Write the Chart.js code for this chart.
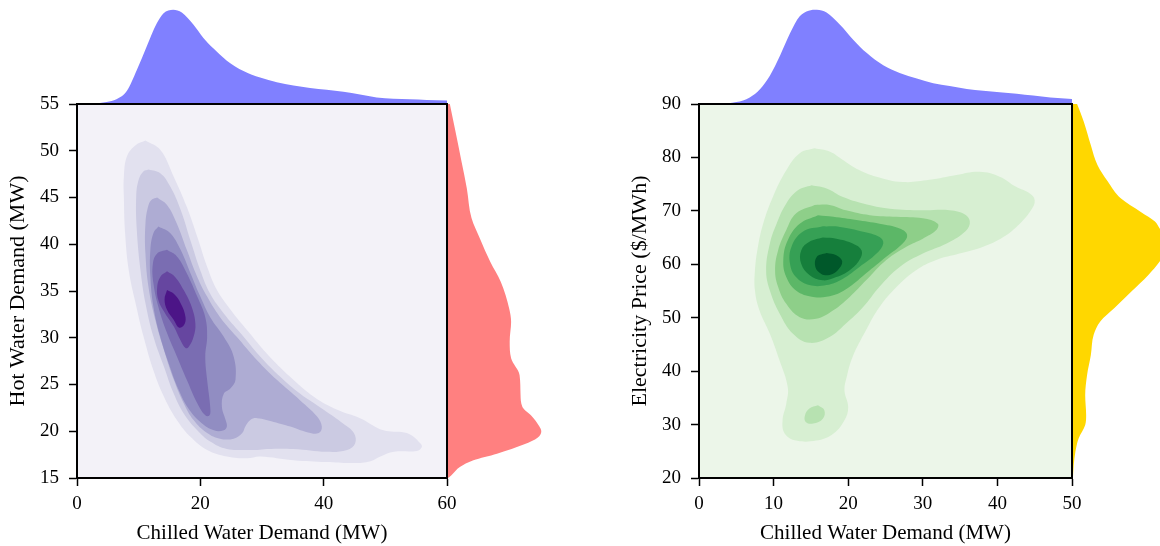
<!DOCTYPE html>
<html>
<head>
<meta charset="utf-8">
<script src="https://cdn.jsdelivr.net/npm/chart.js@4.4.1/dist/chart.umd.min.js"></script>
<style>
  html, body { margin: 0; padding: 0; background: #fff; overflow: hidden; }
  #fig { position: relative; width: 1160px; height: 546px; overflow: hidden; background: #fff; }
  #fig canvas { position: absolute; }
</style>
</head>
<body>
<div id="fig">
  <canvas id="hwTop" width="370" height="99" style="left:77px;top:5px"></canvas>
  <canvas id="hwSide" width="99" height="374" style="left:447px;top:104px"></canvas>
  <canvas id="epTop" width="373" height="99" style="left:699px;top:5px"></canvas>
  <canvas id="epSide" width="99" height="374" style="left:1072px;top:104px"></canvas>
  <canvas id="hwMain" width="580" height="546" style="left:0;top:0"></canvas>
  <canvas id="epMain" width="580" height="546" style="left:580px;top:0"></canvas>
</div>
<script>
// ---- Hot water vs chilled water: density contour levels (outermost first) ----
const hwL1 = [[11.1,51.1],[13.5,50.1],[15.7,47.2],[17.8,44.0],[19.5,40.8],[21.1,37.6],[22.7,35.1],[24.9,33.0],[27.6,30.8],[30.8,28.3],[34.6,25.8],[38.4,23.7],[42.2,22.3],[45.9,21.4],[49.7,20.1],[53.5,19.8],[55.7,18.7],[55.9,18.3],[55.1,17.9],[51.4,17.8],[49.2,17.3],[47.6,16.8],[44.9,16.6],[40.5,16.7],[35.1,16.9],[29.7,17.3],[27.6,17.1],[24.3,17.3],[21.1,18.0],[18.4,19.4],[16.2,21.2],[14.1,23.7],[12.4,26.5],[10.8,30.1],[9.5,33.7],[8.4,37.2],[7.8,41.2],[7.6,45.1],[7.6,47.2],[8.1,49.4],[9.5,50.6]];
const hwL2 = [[11.6,48.0],[13.5,47.6],[15.1,46.2],[16.8,43.7],[18.4,40.4],[20.0,37.2],[21.6,34.7],[23.8,32.6],[26.5,30.5],[29.7,28.0],[33.0,25.8],[36.2,24.0],[40.0,22.3],[43.2,20.8],[44.9,19.8],[45.1,18.7],[43.8,18.0],[40.5,17.8],[35.1,18.1],[30.8,18.1],[29.2,18.0],[27.6,18.0],[24.3,18.1],[21.6,18.9],[19.5,20.1],[17.3,21.9],[15.7,24.0],[14.1,26.9],[12.4,30.1],[11.1,33.7],[10.3,37.2],[9.7,41.5],[9.6,45.1],[10.0,46.9],[10.8,47.8]];
const hwL3 = [[13.0,45.0],[14.6,44.2],[16.2,42.2],[17.8,39.4],[19.5,36.5],[21.1,34.4],[23.2,32.2],[25.9,30.1],[29.2,27.6],[32.4,25.5],[36.2,23.3],[38.9,21.6],[39.7,20.5],[39.2,19.8],[37.3,19.9],[34.6,20.5],[31.9,21.0],[29.2,21.4],[28.1,21.2],[27.3,20.5],[26.8,19.8],[25.4,19.2],[23.2,19.2],[21.1,19.8],[18.9,21.2],[17.3,23.0],[15.7,25.5],[14.1,28.7],[12.7,31.9],[11.6,35.4],[11.1,39.0],[11.1,42.2],[11.6,44.2],[12.2,44.8]];
const hwL4 = [[13.2,41.9],[15.1,41.2],[16.8,39.4],[18.4,36.9],[20.0,34.4],[21.6,32.2],[23.8,30.1],[25.4,28.0],[25.7,25.5],[24.9,24.6],[23.8,24.0],[23.5,22.6],[24.1,21.2],[24.3,20.5],[23.8,20.1],[22.2,20.1],[20.0,21.0],[18.1,22.4],[16.5,24.4],[14.9,27.2],[13.5,30.1],[12.4,33.3],[11.9,36.5],[11.9,39.4],[12.4,41.2]];
const hwL5 = [[14.6,39.4],[16.2,38.7],[17.8,36.9],[19.5,34.4],[20.8,32.2],[21.1,30.1],[20.8,28.0],[21.1,25.5],[21.6,22.6],[21.5,21.7],[20.8,21.7],[19.5,23.0],[17.8,25.5],[16.2,28.0],[14.6,30.5],[13.2,33.3],[12.4,35.8],[12.3,37.9],[13.0,39.0]];
const hwL6 = [[14.6,37.1],[15.9,36.5],[17.3,35.1],[18.6,33.3],[19.2,31.5],[18.9,30.1],[18.1,29.0],[17.6,28.9],[16.8,29.7],[15.7,31.2],[14.3,32.6],[13.2,34.0],[13.0,35.4],[13.5,36.5]];
const hwL7 = [[14.6,35.1],[15.7,34.7],[16.8,33.7],[17.6,32.2],[17.3,31.3],[16.5,31.1],[15.7,31.9],[14.6,33.0],[14.2,34.1]];

// marginal densities, scaled so the peak is 1
const hwTopX = [1.6, 2.6, 4.8, 6.4, 8.1, 9.7, 11.3, 12.9, 14.0, 15.6, 17.0, 18.9, 20.5, 22.1, 24.3, 27.0, 29.7, 32.4, 35.1, 37.8, 40.5, 43.2, 45.9, 48.6, 51.3, 54.0, 56.7, 60.0];
const hwTopD = [0, 0.005, 0.02, 0.05, 0.14, 0.36, 0.61, 0.85, 0.96, 1.0, 0.97, 0.84, 0.70, 0.59, 0.46, 0.35, 0.28, 0.23, 0.196, 0.17, 0.15, 0.13, 0.10, 0.07, 0.057, 0.05, 0.043, 0.036];
const hwSideY = [15.0, 15.3, 16.2, 16.9, 17.6, 18.6, 19.3, 20.0, 20.5, 21.7, 22.6, 23.9, 26.0, 27.8, 29.6, 31.7, 33.1, 36.0, 38.1, 40.6, 42.8, 46.0, 48.8, 52.4, 55.0];
const hwSideD = [0.01, 0.047, 0.14, 0.28, 0.53, 0.82, 0.96, 1.0, 0.98, 0.89, 0.80, 0.78, 0.77, 0.68, 0.665, 0.68, 0.66, 0.57, 0.46, 0.35, 0.26, 0.21, 0.155, 0.083, 0.03];

const hwXTicks = [0, 20, 40, 60];
const hwYTicks = [15, 20, 25, 30, 35, 40, 45, 50, 55];

// ---- Electricity price vs chilled water ----
const epL1 = [[15.5,81.7],[17.5,81.1],[19.3,79.5],[21.1,77.9],[23.8,76.4],[27.3,75.4],[30.9,75.8],[34.5,76.7],[37.6,77.3],[40.3,76.4],[42.5,74.5],[44.3,73.3],[45.0,72.0],[44.5,70.1],[43.0,67.6],[40.8,65.1],[38.1,63.3],[34.9,62.0],[31.8,60.8],[29.1,58.9],[26.5,55.8],[24.2,52.0],[22.4,47.7],[20.6,42.7],[19.8,38.9],[19.5,36.4],[20.0,33.3],[19.5,30.8],[18.0,28.3],[15.7,27.0],[13.0,27.0],[11.5,28.3],[11.2,30.8],[11.7,33.9],[11.9,37.0],[10.8,42.0],[9.5,47.0],[8.1,51.4],[7.5,55.1],[7.5,58.9],[7.9,63.3],[8.6,67.6],[9.9,72.6],[11.7,77.6],[13.5,80.8]];
const epL2 = [[15.1,74.8],[17.1,74.2],[19.3,72.6],[22.0,71.4],[25.6,70.4],[30.0,70.1],[33.6,70.1],[35.8,69.2],[36.3,67.6],[35.4,65.8],[33.2,63.9],[30.0,62.0],[26.9,59.5],[24.2,55.8],[22.0,52.0],[19.7,48.9],[17.5,46.4],[14.8,45.3],[12.6,47.0],[10.8,50.8],[9.5,55.1],[9.0,58.9],[9.5,63.9],[10.4,67.6],[11.7,71.4],[13.3,73.9]];
const epL2b = [[15.95,33.6],[16.8,32.7],[16.6,31.1],[15.3,30.2],[14.3,30.5],[14.2,31.7],[14.8,33.0]];
const epL3 = [[15.5,71.1],[17.5,71.1],[19.7,70.1],[22.9,69.2],[26.5,68.9],[30.0,68.6],[32.0,67.6],[31.8,66.4],[30.0,64.8],[27.8,63.3],[25.1,60.8],[22.4,57.0],[20.2,53.9],[18.0,51.4],[15.7,49.8],[13.5,50.1],[11.7,52.6],[10.6,55.8],[10.2,58.9],[10.6,62.6],[11.7,66.4],[13.0,69.5]];
const epL4 = [[15.95,69.2],[18.0,68.9],[21.1,68.3],[24.2,67.6],[26.9,66.7],[27.9,65.5],[27.3,63.9],[25.1,61.4],[22.4,58.3],[20.2,55.8],[18.0,54.2],[15.3,53.9],[13.0,55.1],[11.7,57.6],[11.3,60.8],[11.9,64.5],[13.5,67.6]];
const epL5 = [[16.6,67.1],[18.9,67.0],[22.0,66.1],[24.2,65.1],[24.7,63.9],[23.8,62.0],[21.5,59.5],[19.3,57.3],[17.1,56.1],[14.8,56.1],[13.0,57.6],[12.2,60.1],[12.4,63.3],[13.9,66.1]];
const epL6 = [[16.6,65.0],[18.4,64.8],[20.6,63.9],[21.8,62.6],[21.5,60.8],[20.2,58.9],[18.4,57.6],[16.6,57.0],[14.8,58.0],[13.7,60.1],[13.7,62.6],[14.8,64.2]];
const epL7 = [[17.1,62.1],[18.4,61.7],[19.2,60.5],[18.6,58.9],[17.5,58.0],[16.4,58.2],[15.6,59.5],[15.8,61.4]];

const epTopX = [2.8, 5.0, 6.8, 8.2, 9.5, 10.9, 12.2, 13.5, 14.7, 15.8, 17.1, 18.9, 20.7, 22.5, 24.7, 26.9, 29.2, 31.4, 33.6, 35.9, 38.1, 40.3, 42.6, 44.8, 47.1, 50.0];
const epTopD = [0, 0.02, 0.07, 0.16, 0.30, 0.52, 0.75, 0.93, 0.99, 1.0, 0.97, 0.84, 0.68, 0.54, 0.41, 0.33, 0.27, 0.22, 0.19, 0.16, 0.14, 0.125, 0.11, 0.09, 0.07, 0.054];
const epSideY = [20.0, 22.4, 24.9, 27.4, 29.9, 31.8, 35.5, 39.3, 43.0, 46.8, 49.3, 51.8, 54.9, 58.0, 60.5, 62.5, 64.0, 65.5, 66.7, 68.0, 69.8, 72.3, 75.5, 78.6, 82.3, 86.7, 90.0];
const epSideD = [0.01, 0.018, 0.036, 0.07, 0.14, 0.15, 0.14, 0.16, 0.20, 0.23, 0.30, 0.45, 0.63, 0.81, 0.93, 0.99, 1.0, 0.98, 0.93, 0.88, 0.73, 0.52, 0.38, 0.27, 0.20, 0.125, 0.054];

const epXTicks = [0, 10, 20, 30, 40, 50];
const epYTicks = [20, 30, 40, 50, 60, 70, 80, 90];

// colours
const purples = ['#e2e1ef', '#cbcae2', '#aeacd3', '#918dc2', '#7a6db2', '#6646a0', '#4c1587'];
const greens = ['#d7efd2', '#b7e2b1', '#8ecf89', '#5cb767', '#36a055', '#167f3c', '#00582a'];
const SERIF = "'Liberation Serif', 'Times New Roman', serif";

Chart.defaults.font.family = SERIF;
Chart.defaults.color = '#000';

// panel background + black frame round the plot area
const framePlugin = {
  id: 'frame',
  beforeDatasetsDraw(chart, args, opts) {
    const a = chart.chartArea, ctx = chart.ctx;
    ctx.save();
    ctx.fillStyle = opts.bg;
    ctx.fillRect(a.left, a.top, a.width, a.height);
    ctx.restore();
  },
  afterDraw(chart) {
    const a = chart.chartArea, ctx = chart.ctx;
    ctx.save();
    ctx.strokeStyle = '#000';
    ctx.lineWidth = 2;
    ctx.strokeRect(a.left, a.top, a.width, a.height);
    ctx.restore();
  }
};

function contourSets(levels, colors, extra) {
  const sets = levels.map((pts, i) => ({
    data: pts.concat([pts[0]]).map(([x, y]) => ({ x, y })),
    backgroundColor: colors[i],
    order: levels.length - i
  }));
  (extra || []).forEach(e => sets.push({
    data: e.pts.concat([e.pts[0]]).map(([x, y]) => ({ x, y })),
    backgroundColor: colors[e.level],
    order: levels.length - e.level
  }));
  return sets;
}

function mainChart(id, o) {
  const tickFont = { family: SERIF, size: 19 };
  return new Chart(document.getElementById(id), {
    type: 'scatter',
    data: { datasets: contourSets(o.levels, o.colors, o.extra) },
    options: {
      responsive: false, animation: false, events: [],
      layout: { padding: { top: 104, right: o.padRight, left: 0, bottom: 0 } },
      datasets: { scatter: { showLine: true, fill: 'shape', tension: 0.4, borderWidth: 0, pointRadius: 0, borderColor: 'rgba(0,0,0,0)' } },
      plugins: { legend: { display: false }, tooltip: { enabled: false }, frame: { bg: o.bg } },
      scales: {
        x: {
          type: 'linear', min: o.xTicks[0], max: o.xTicks[o.xTicks.length - 1],
          afterBuildTicks: s => { s.ticks = o.xTicks.map(v => ({ value: v })); },
          afterFit: s => { s.height = 68; },
          ticks: { font: tickFont, color: '#000', padding: 7, maxRotation: 0 },
          grid: { drawOnChartArea: false, drawTicks: true, tickLength: 8, tickWidth: 1.5, tickColor: '#000' },
          border: { display: true, color: '#000', width: 2 },
          title: { display: true, text: 'Chilled Water Demand (MW)', font: { family: SERIF, size: 21 }, color: '#000', padding: { top: 0, bottom: 0 } }
        },
        y: {
          type: 'linear', min: o.yTicks[0], max: o.yTicks[o.yTicks.length - 1],
          afterBuildTicks: s => { s.ticks = o.yTicks.map(v => ({ value: v })); },
          afterFit: s => { s.width = o.yWidth; },
          ticks: { font: tickFont, color: '#000', padding: 10 },
          grid: { drawOnChartArea: false, drawTicks: true, tickLength: 8, tickWidth: 1.5, tickColor: '#000' },
          border: { display: true, color: '#000', width: 2 },
          title: { display: true, text: o.yTitle, font: { family: SERIF, size: 22 }, color: '#000', padding: { top: o.yTitlePad, bottom: 0 } }
        }
      }
    },
    plugins: [framePlugin]
  });
}

function topMarginal(id, xs, ds, xMax, color) {
  return new Chart(document.getElementById(id), {
    type: 'line',
    data: { datasets: [{ data: xs.map((x, i) => ({ x, y: ds[i] })), backgroundColor: color, borderWidth: 0, pointRadius: 0, fill: 'origin', cubicInterpolationMode: 'monotone' }] },
    options: {
      responsive: false, animation: false, events: [],
      plugins: { legend: { display: false }, tooltip: { enabled: false } },
      scales: {
        x: { type: 'linear', display: false, min: 0, max: xMax },
        y: { type: 'linear', display: false, min: 0, max: 1.05 }
      }
    }
  });
}

function sideMarginal(id, ys, ds, yMin, yMax, color) {
  return new Chart(document.getElementById(id), {
    type: 'line',
    data: { datasets: [{ data: ys.map((y, i) => ({ x: ds[i], y })), backgroundColor: color, borderWidth: 0, pointRadius: 0, fill: 'origin', cubicInterpolationMode: 'monotone' }] },
    options: {
      indexAxis: 'y',
      responsive: false, animation: false, events: [],
      plugins: { legend: { display: false }, tooltip: { enabled: false } },
      scales: {
        y: { type: 'linear', display: false, min: yMin, max: yMax },
        x: { type: 'linear', display: false, min: 0, max: 1.05 }
      }
    }
  });
}

topMarginal('hwTop', hwTopX, hwTopD, 60, '#8080ff');
sideMarginal('hwSide', hwSideY, hwSideD, 15, 55, '#ff8080');
topMarginal('epTop', epTopX, epTopD, 50, '#8080ff');
sideMarginal('epSide', epSideY, epSideD, 20, 90, '#ffd700');

mainChart('hwMain', {
  levels: [hwL1, hwL2, hwL3, hwL4, hwL5, hwL6, hwL7], colors: purples, bg: '#f3f2f8',
  xTicks: hwXTicks, yTicks: hwYTicks, yTitle: 'Hot Water Demand (MW)',
  yWidth: 77, padRight: 133, yTitlePad: 5
});
mainChart('epMain', {
  levels: [epL1, epL2, epL3, epL4, epL5, epL6, epL7], colors: greens, bg: '#ecf6e9',
  extra: [{ pts: epL2b, level: 1 }],
  xTicks: epXTicks, yTicks: epYTicks, yTitle: 'Electricity Price ($/MWh)',
  yWidth: 119, padRight: 88, yTitlePad: 47
});
</script>
</body>
</html>
